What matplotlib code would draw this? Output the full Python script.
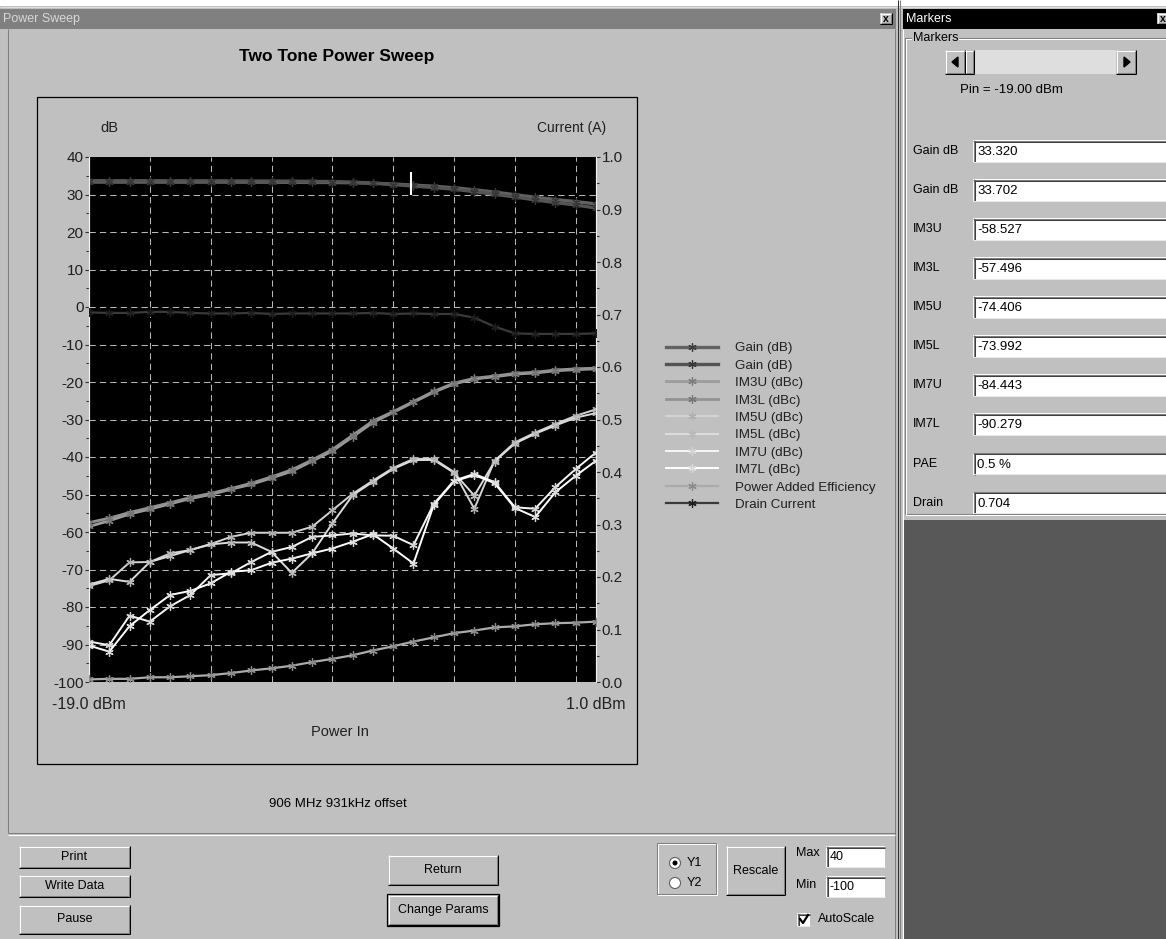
import matplotlib.pyplot as plt
from matplotlib.patches import Rectangle, Circle, Polygon

plt.rcParams['font.family'] = ['Liberation Sans', 'DejaVu Sans']
plt.rcParams['axes.unicode_minus'] = False

W, H = 1166, 939
BG = '#c0c0c0'

# sweep points (dBm)
pin = [-19.0, -18.2, -17.4, -16.6, -15.8, -15.0, -14.2, -13.4, -12.6, -11.8,
       -11.0, -10.2, -9.4, -8.6, -7.8, -7.0, -6.2, -5.4, -4.6, -3.8,
       -3.0, -2.2, -1.4, -0.6, 0.2, 1.0]

# left axis (dB / dBc)
gain_a = [33.32, 33.30, 33.31, 33.30, 33.29, 33.30, 33.30, 33.29, 33.28, 33.27,
          33.25, 33.22, 33.20, 33.12, 33.00, 32.80, 32.50, 32.20, 31.80, 31.25,
          30.65, 29.95, 29.25, 28.65, 28.10, 27.50]
gain_b = [33.70, 33.68, 33.68, 33.67, 33.66, 33.66, 33.65, 33.63, 33.60, 33.58,
          33.55, 33.50, 33.45, 33.30, 33.05, 32.65, 32.25, 31.85, 31.40, 30.75,
          30.05, 29.35, 28.55, 27.85, 27.20, 26.40]
im3u = [-58.53, -57.0, -55.2, -53.9, -52.5, -51.1, -50.0, -48.6, -47.3, -45.6,
        -43.8, -41.1, -38.4, -34.6, -30.8, -28.1, -25.4, -22.7, -20.5, -19.2,
        -18.6, -17.9, -17.6, -17.0, -16.7, -16.5]
im3l = [-57.50, -56.3, -54.8, -53.5, -52.2, -50.8, -49.7, -48.4, -47.0, -45.3,
        -43.4, -40.8, -38.0, -34.2, -30.4, -27.9, -25.2, -22.5, -20.3, -19.0,
        -18.4, -17.7, -17.4, -16.8, -16.5, -16.3]
im5u = [-74.41, -72.9, -68.1, -68.0, -65.7, -64.8, -63.2, -61.3, -60.2, -60.2,
        -60.2, -58.6, -54.2, -49.8, -46.3, -42.9, -40.5, -40.5, -44.0, -53.8,
        -41.0, -36.1, -33.5, -31.2, -29.0, -27.3]
im5l = [-73.99, -72.5, -73.3, -68.0, -66.4, -64.8, -63.3, -62.8, -62.8, -65.3,
        -70.9, -65.7, -57.7, -50.2, -46.6, -43.2, -40.8, -40.8, -44.2, -50.3,
        -41.2, -36.4, -33.8, -31.6, -29.5, -28.3]
im7u = [-89.2, -90.2, -82.3, -83.9, -79.8, -76.8, -71.5, -71.0, -68.0, -65.3,
        -64.0, -61.3, -60.9, -60.4, -60.9, -61.0, -63.5, -52.5, -46.3, -44.5,
        -46.7, -53.4, -53.8, -48.0, -43.2, -38.8]
im7l = [-90.28, -91.9, -85.1, -80.8, -76.8, -75.7, -73.7, -70.6, -70.2, -68.2,
        -67.1, -65.7, -64.4, -62.6, -60.6, -64.4, -68.4, -52.8, -46.5, -44.8,
        -47.0, -53.6, -56.0, -49.4, -45.0, -41.0]

# right axis (A / fraction)
pae_pct = [0.5, 0.6, 0.6, 0.9, 0.9, 1.1, 1.3, 1.7, 2.2, 2.6,
           3.1, 3.8, 4.4, 5.1, 6.0, 6.8, 7.7, 8.5, 9.3, 9.8,
           10.4, 10.6, 11.0, 11.2, 11.3, 11.5]
drain = [0.704, 0.703, 0.703, 0.705, 0.705, 0.703, 0.702, 0.702, 0.703, 0.701,
         0.702, 0.702, 0.702, 0.702, 0.703, 0.701, 0.702, 0.701, 0.701, 0.694,
         0.677, 0.664, 0.663, 0.663, 0.663, 0.664]

cursor_pin = -6.3

marker_names = ['Gain dB', 'Gain dB', 'IM3U', 'IM3L', 'IM5U', 'IM5L',
                'IM7U', 'IM7L', 'PAE', 'Drain']
marker_values = ['33.320', '33.702', '-58.527', '-57.496', '-74.406', '-73.992',
                 '-84.443', '-90.279', '0.5 %', '0.704']

fig = plt.figure(figsize=(W / 100, H / 100), dpi=100, facecolor=BG)
ui = fig.add_axes([0, 0, 1, 1])
ui.set_xlim(0, W)
ui.set_ylim(H, 0)
ui.axis('off')


def px_axes(l, t, r, b):
    return [l / W, 1 - b / H, (r - l) / W, (b - t) / H]


def rect(x, y, w, h, fc, ec='none', lw=0, z=1):
    ui.add_patch(Rectangle((x, y), w, h, facecolor=fc, edgecolor=ec,
                           linewidth=lw, zorder=z))


def hline(x0, x1, y, c, z=3):
    ui.plot([x0, x1], [y, y], color=c, lw=0.75, zorder=z, solid_capstyle='butt')


def vline(x, y0, y1, c, z=3):
    ui.plot([x, x], [y0, y1], color=c, lw=0.75, zorder=z, solid_capstyle='butt')


def button(x, y, w, h, label, bold_edge=False, fs=9, weight='normal'):
    rect(x, y, w, h, BG, z=2)
    if bold_edge:
        rect(x - 1, y - 1, w + 2, h + 2, 'none', ec='black', lw=0.9, z=4)
    hline(x, x + w, y + 0.5, 'white')
    vline(x + 0.5, y, y + h, 'white')
    hline(x, x + w, y + h - 0.5, 'black')
    vline(x + w - 0.5, y, y + h, 'black')
    hline(x + 1, x + w - 1, y + h - 1.5, '#808080')
    vline(x + w - 1.5, y + 1, y + h - 1, '#808080')
    if label:
        ui.text(x + w / 2, y + h / 2, label, ha='center', va='center',
                fontsize=fs, fontweight=weight, color='black', zorder=5)


def field(x, y, w, h, value, fs=9):
    rect(x, y, w, h, 'white', z=2)
    hline(x, x + w, y + 0.5, '#808080')
    vline(x + 0.5, y, y + h, '#808080')
    hline(x + 1, x + w, y + 1.5, '#404040')
    vline(x + 1.5, y + 1, y + h, '#404040')
    hline(x, x + w, y + h - 0.5, '#e8e8e8')
    ui.text(x + 4, y + h / 2 + 1, value, ha='left', va='center',
            fontsize=fs, color='black', zorder=5)


# ---- window chrome ----
rect(0, 0, W, 6, 'white', z=1)
hline(0, W, 7, '#dcdcdc')
rect(0, 9, 896, 20, '#808080', z=1)
ui.text(3, 19, 'Power Sweep', fontsize=9, color='#d8d8d8', va='center', zorder=5)
button(880, 13, 12, 11, 'x', fs=7.5, weight='bold')
rect(903, 9, W - 903, 20, 'black', z=1)
ui.text(906, 19, 'Markers', fontsize=9, color='white', va='center', zorder=5)
button(1157, 13, 12, 11, 'x', fs=7.5, weight='bold')

vline(8, 29, 833, '#808080')
vline(895, 29, H, '#808080')
vline(897.5, 0, H, '#303030')
vline(900, 0, H, '#808080')
vline(903, 29, H, 'white')
hline(8, 895, 833, '#808080')
hline(8, 895, 834.5, 'white')

# dark area under marker panel
rect(903, 520, W - 903, H - 520, '#585858', z=2)

# ---- chart frame ----
rect(37, 97, 600, 667, 'none', ec='black', lw=0.9, z=3)
ui.text(337, 57, 'Two Tone Power Sweep', ha='center', va='center',
        fontsize=12.5, fontweight='bold', color='black')
ui.text(109, 128, 'dB', ha='center', va='center', fontsize=10.5, color='#202020')
ui.text(572, 128, 'Current (A)', ha='center', va='center', fontsize=10, color='#202020')
ui.text(340, 732, 'Power In', ha='center', va='center', fontsize=10.5, color='#202020')
ui.text(338, 804, '906 MHz 931kHz offset', ha='center', va='center',
        fontsize=9.5, color='black')

# ---- plot ----
ax = fig.add_axes(px_axes(89, 157, 596, 682), facecolor='black')
ax.set_xlim(-19, 1)
ax.set_ylim(-100, 40)
ax2 = ax.twinx()
ax2.set_ylim(0, 1.0)

for gx in [-16.6, -14.2, -11.8, -9.4, -7.0, -4.6, -2.2, 0.2]:
    ax.axvline(gx, color='#b8b8b8', lw=0.75, dashes=(6, 4), zorder=1)
for gy in range(-90, 40, 10):
    ax.axhline(gy, color='#b8b8b8', lw=0.75, dashes=(6, 4), zorder=1)

ast = (6, 2, 0)
styles = [
    (ax, gain_a, 'Gain (dB)', '#626262', '#3c3c3c', 2.4),
    (ax, gain_b, 'Gain (dB)', '#545454', '#363636', 2.4),
    (ax, im3u, 'IM3U (dBc)', '#9c9c9c', '#7c7c7c', 2.0),
    (ax, im3l, 'IM3L (dBc)', '#929292', '#767676', 2.0),
    (ax, im5u, 'IM5U (dBc)', '#d4d4d4', '#b0b0b0', 1.4),
    (ax, im5l, 'IM5L (dBc)', '#dcdcdc', '#b8b8b8', 1.4),
    (ax, im7u, 'IM7U (dBc)', '#f6f6f6', '#d4d4d4', 1.4),
    (ax, im7l, 'IM7L (dBc)', '#ffffff', '#dcdcdc', 1.4),
    (ax2, [p / 100 for p in pae_pct], 'Power Added Efficiency', '#ababab', '#8c8c8c', 1.6),
    (ax2, drain, 'Drain Current', '#3a3a3a', '#1e1e1e', 1.6),
]
handles = []
for a, ys, lab, col, mcol, lw in styles:
    ln, = a.plot(pin, ys, color=col, lw=lw, marker=ast, ms=6, mec=mcol,
                 mew=0.9, label=lab, zorder=3)
    handles.append(ln)

ax.vlines(cursor_pin, 30, 36, color='white', lw=1.5, zorder=5)

ax.set_yticks(range(-100, 41, 10))
ax.set_yticks(range(-95, 40, 10), minor=True)
ax.set_xticks([-19, 1])
ax.set_xticklabels(['-19.0 dBm', '1.0 dBm'])
ax.tick_params(axis='x', length=0, pad=11, labelsize=11.5, labelcolor='#202020')
ax.tick_params(axis='y', which='major', direction='out', length=3, width=0.8,
               color='#303030', labelsize=11, labelcolor='#202020', pad=1)
ax.tick_params(axis='y', which='minor', direction='out', length=2, width=0.8,
               color='#303030')
ax2.set_yticks([i / 10 for i in range(11)])
ax2.set_yticklabels(['%.1f' % (i / 10) for i in range(11)])
ax2.set_yticks([i / 10 + 0.05 for i in range(10)], minor=True)
ax2.tick_params(axis='y', which='major', direction='out', length=3, width=0.8,
                color='#303030', labelsize=11, labelcolor='#202020', pad=1)
ax2.tick_params(axis='y', which='minor', direction='out', length=2, width=0.8,
                color='#303030')
for a in (ax, ax2):
    a.spines['top'].set_visible(False)
    a.spines['bottom'].set_visible(False)
    a.spines['left'].set_color('#f0f0f0')
    a.spines['right'].set_color('#f0f0f0')

fig.legend(handles=handles, loc='upper left', bbox_to_anchor=(666 / W, 1 - 342 / H),
           frameon=False, fontsize=9.6, handlelength=3.9, handletextpad=1.3,
           labelspacing=0.38, borderaxespad=0, borderpad=0, labelcolor='#202020')

# ---- marker panel ----
rect(905, 38, 262, 476, 'none', ec='#808080', lw=0.75, z=3)
rect(906, 39, 262, 476, 'none', ec='white', lw=0.75, z=3)
ui.text(913, 38, 'Markers', fontsize=9, va='center', ha='left', color='black',
        zorder=5, bbox=dict(facecolor=BG, edgecolor='none', pad=0.5))
# scrollbar
rect(945, 50, 191, 24, '#dedede', z=2)
button(945, 50, 20, 24, '')
button(1116, 50, 20, 24, '')
button(965, 50, 9, 24, '')
ui.add_patch(Polygon([[958, 57], [958, 67], [952, 62]], closed=True, color='black', zorder=6))
ui.add_patch(Polygon([[1124, 57], [1124, 67], [1130, 62]], closed=True, color='black', zorder=6))
ui.text(1011, 90, 'Pin = -19.00 dBm', ha='center', va='center', fontsize=9.5, zorder=5)

for k, (nm, val) in enumerate(zip(marker_names, marker_values)):
    y0 = 140 + k * 39.07
    ui.text(913, y0 + 11, nm, ha='left', va='center', fontsize=9, zorder=5)
    field(973, y0, 200, 22, val, fs=9.5)

# ---- bottom controls ----
button(19, 846, 111, 22, 'Print')
button(19, 875, 111, 22, 'Write Data')
button(19, 905, 111, 29, 'Pause')
button(388, 855, 110, 30, 'Return')
button(388, 895, 110, 30, 'Change Params', bold_edge=True)

rect(658, 844, 59, 51, 'none', ec='white', lw=0.75, z=3)
rect(657, 843, 59, 51, 'none', ec='#808080', lw=0.75, z=3)
for yy, lab, sel in [(863, 'Y1', True), (883, 'Y2', False)]:
    ui.add_patch(Circle((675, yy), 5.5, facecolor='white', edgecolor='#606060', lw=0.8, zorder=5))
    if sel:
        ui.add_patch(Circle((675, yy), 1.8, color='black', zorder=6))
    ui.text(687, yy, lab, ha='left', va='center', fontsize=9, zorder=5)

button(726, 846, 59, 49, 'Rescale')
ui.text(796, 853, 'Max', ha='left', va='center', fontsize=9, zorder=5)
field(826, 846, 59, 21, '40')
ui.text(796, 885, 'Min', ha='left', va='center', fontsize=9, zorder=5)
field(826, 876, 59, 21, '-100')
field(797, 913, 13, 13, '')
ui.plot([800, 803, 808], [919, 923, 915], color='black', lw=1.6, zorder=6)
ui.text(818, 919, 'AutoScale', ha='left', va='center', fontsize=9, zorder=5)

fig.savefig('out.png', dpi=100, facecolor=BG)
